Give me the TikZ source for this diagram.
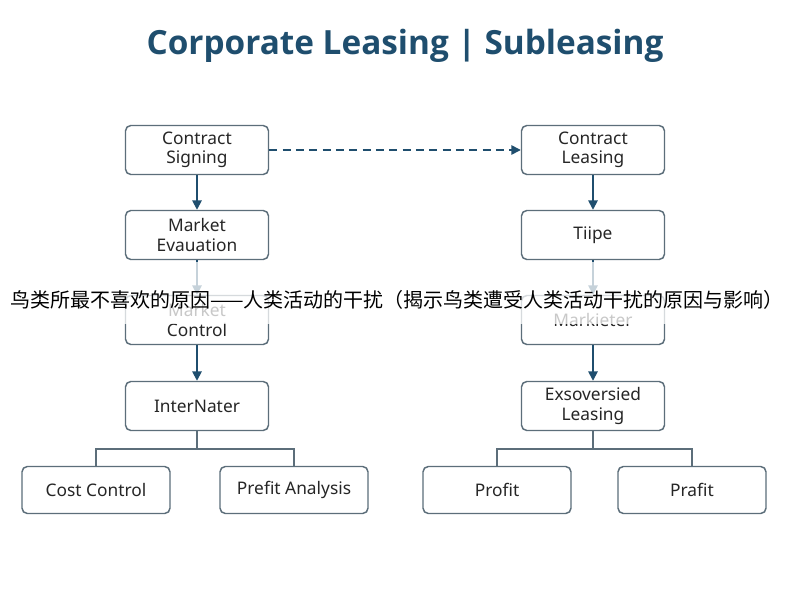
\documentclass[tikz,border=0pt]{standalone}
\usepackage{fontspec}
\setmainfont{Noto Sans}
\newfontfamily\titlefont{Open Sans}
\newfontfamily\cjk{Noto Sans CJK SC}
\usetikzlibrary{arrows.meta}
\definecolor{dblue}{HTML}{1F4E6E}
\definecolor{bord}{HTML}{5C6E7A}
\begin{document}
\begin{tikzpicture}[x=0.75pt,y=-0.75pt,
  box/.style={draw=bord,line width=1.1pt,rounded corners=4pt,fill=white,minimum width=143*0.75pt,minimum height=49*0.75pt,align=center,font=\fontsize{13}{14.5}\selectfont,text=black!85,inner sep=1pt},
  bbox/.style={box,minimum width=148*0.75pt,minimum height=47*0.75pt},
  arr/.style={-{Triangle[length=7pt,width=7pt]},dblue,line width=1.3pt},
  ln/.style={bord,line width=1.1pt}]
\useasboundingbox (0,0) rectangle (800,600);
\fill[white] (0,0) rectangle (800,600);
\node[text=dblue,font=\titlefont\fontsize{25}{27}\selectfont\bfseries] (title) at (405,46) {Corporate Leasing | Subleasing};
\node[box] (a1) at (197,150) {Contract\\Signing};
\node[box] (a2) at (197,235) {Market\\Evauation};
\node[box] (a3) at (197,320) {Market\\Control};
\node[box] (a4) at (197,406) {InterNater};
\node[box] (b1) at (593,150) {Contract\\Leasing};
\node[box] (b2) at (593,235) {Tiipe};
\node[box] (b3) at (593,320) {Markieter};
\node[box] (b4) at (593,406) {Exsoversied\\Leasing};
\node[bbox] (c1) at (96,490) {Cost Control};
\node[bbox] (c2) at (294,490) {Prefit Analysis};
\node[bbox] (c3) at (497,490) {Profit};
\node[bbox] (c4) at (692,490) {Prafit};
\draw[arr,dashed,dash pattern=on 6pt off 4pt,line width=1.1pt] (a1) -- (b1);
\foreach \u/\v in {a1/a2,a2/a3,a3/a4,b1/b2,b2/b3,b3/b4} \draw[arr] (\u) -- (\v);
\draw[ln] (a4.south) -- (197,449) coordinate (j1);
\draw[ln] (c1.north) |- (j1) -| (c2.north);
\draw[ln] (b4.south) -- (593,449) coordinate (j2);
\draw[ln] (c3.north) |- (j2) -| (c4.north);
\fill[white,opacity=0.75] (100,262) rectangle (700,324);
\node[font=\cjk\fontsize{15}{16}\selectfont,text=black,inner sep=0] (cn) at (397,300) {鸟类所最不喜欢的原因——人类活动的干扰（揭示鸟类遭受人类活动干扰的原因与影响）};
\end{tikzpicture}
\end{document}
